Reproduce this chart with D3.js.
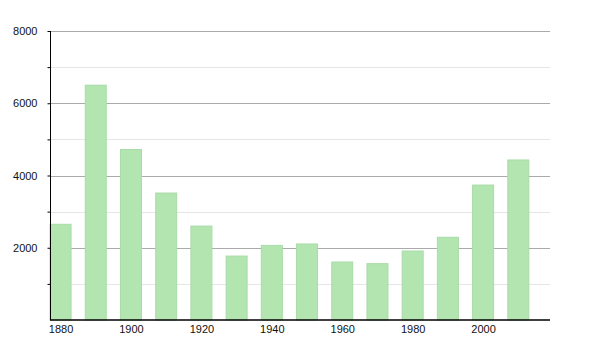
<!DOCTYPE html>
<html>
<head>
<meta charset="utf-8">
<script src="https://cdn.jsdelivr.net/npm/d3@7"></script>
<style>
  body { margin: 0; background: #fff; }
  text { font-family: "Liberation Sans", Arial, sans-serif; font-size: 11px; fill: #111; }
</style>
</head>
<body>
<div id="chart"></div>
<script>
var years = [1880, 1890, 1900, 1910, 1920, 1930, 1940, 1950, 1960, 1970, 1980, 1990, 2000, 2010];
var population = [2650, 6500, 4720, 3515, 2600, 1770, 2065, 2105, 1605, 1560, 1910, 2290, 3735, 4430];
var yearTicks = [1880, 1900, 1920, 1940, 1960, 1980, 2000];
var majorTicks = [2000, 4000, 6000, 8000];
var minorTicks = [1000, 3000, 5000, 7000];

var width = 600, height = 350;
var plotLeft = 50, plotRight = 550, plotTop = 31, plotBottom = 320;

var svg = d3.select("#chart").append("svg")
  .attr("width", width)
  .attr("height", height);

var x = d3.scaleLinear().domain([1877, 2019]).range([plotLeft, plotRight]);
var y = d3.scaleLinear().domain([0, 8000]).range([plotBottom, plotTop]);
var barW = 21;

// minor grid
svg.selectAll(".minor")
  .data(minorTicks)
  .enter()
  .append("line")
  .attr("x1", plotLeft).attr("x2", plotRight)
  .attr("y1", function (d) { return Math.round(y(d)) + 0.5; })
  .attr("y2", function (d) { return Math.round(y(d)) + 0.5; })
  .style("stroke", "#e6e6e6");

// major grid
svg.selectAll(".major")
  .data(majorTicks)
  .enter()
  .append("line")
  .attr("x1", plotLeft).attr("x2", plotRight)
  .attr("y1", function (d) { return Math.round(y(d)) + 0.5; })
  .attr("y2", function (d) { return Math.round(y(d)) + 0.5; })
  .style("stroke", "#aaaaaa");

// bars
svg.selectAll(".bar")
  .data(years)
  .enter()
  .append("rect")
  .attr("class", "bar")
  .attr("x", function (d) { return x(d) - barW / 2; })
  .attr("y", function (d, i) { return y(population[i]); })
  .attr("width", barW)
  .attr("height", function (d, i) { return plotBottom - y(population[i]); })
  .style("fill", "#b3e5b1")
  .style("stroke", "#a9dba8")
  .style("stroke-width", 1);

// y axis
var yAxis = d3.axisLeft(y)
  .tickValues(minorTicks.concat(majorTicks))
  .tickSize(3)
  .tickPadding(10)
  .tickFormat(function (d) { return d % 2000 === 0 ? d : ""; });

var gy = svg.append("g")
  .attr("transform", "translate(" + (plotLeft + 0.5) + ",0)")
  .call(yAxis);
gy.select(".domain").attr("d", "M0," + plotTop + "V" + plotBottom).style("stroke", "#000");
gy.selectAll(".tick line").style("stroke", "#000");
gy.selectAll("text").style("font-size", "11px");

// x axis
var xAxis = d3.axisBottom(x)
  .tickValues(yearTicks)
  .tickSize(0)
  .tickPadding(5)
  .tickFormat(d3.format("d"));

var gx = svg.append("g")
  .attr("transform", "translate(0," + plotBottom + ")")
  .call(xAxis);
gx.select(".domain").attr("d", "M" + plotLeft + ",0H" + plotRight).style("stroke", "#000").style("stroke-width", 1.5);
gx.selectAll("text").style("font-size", "11px");
</script>
</body>
</html>
